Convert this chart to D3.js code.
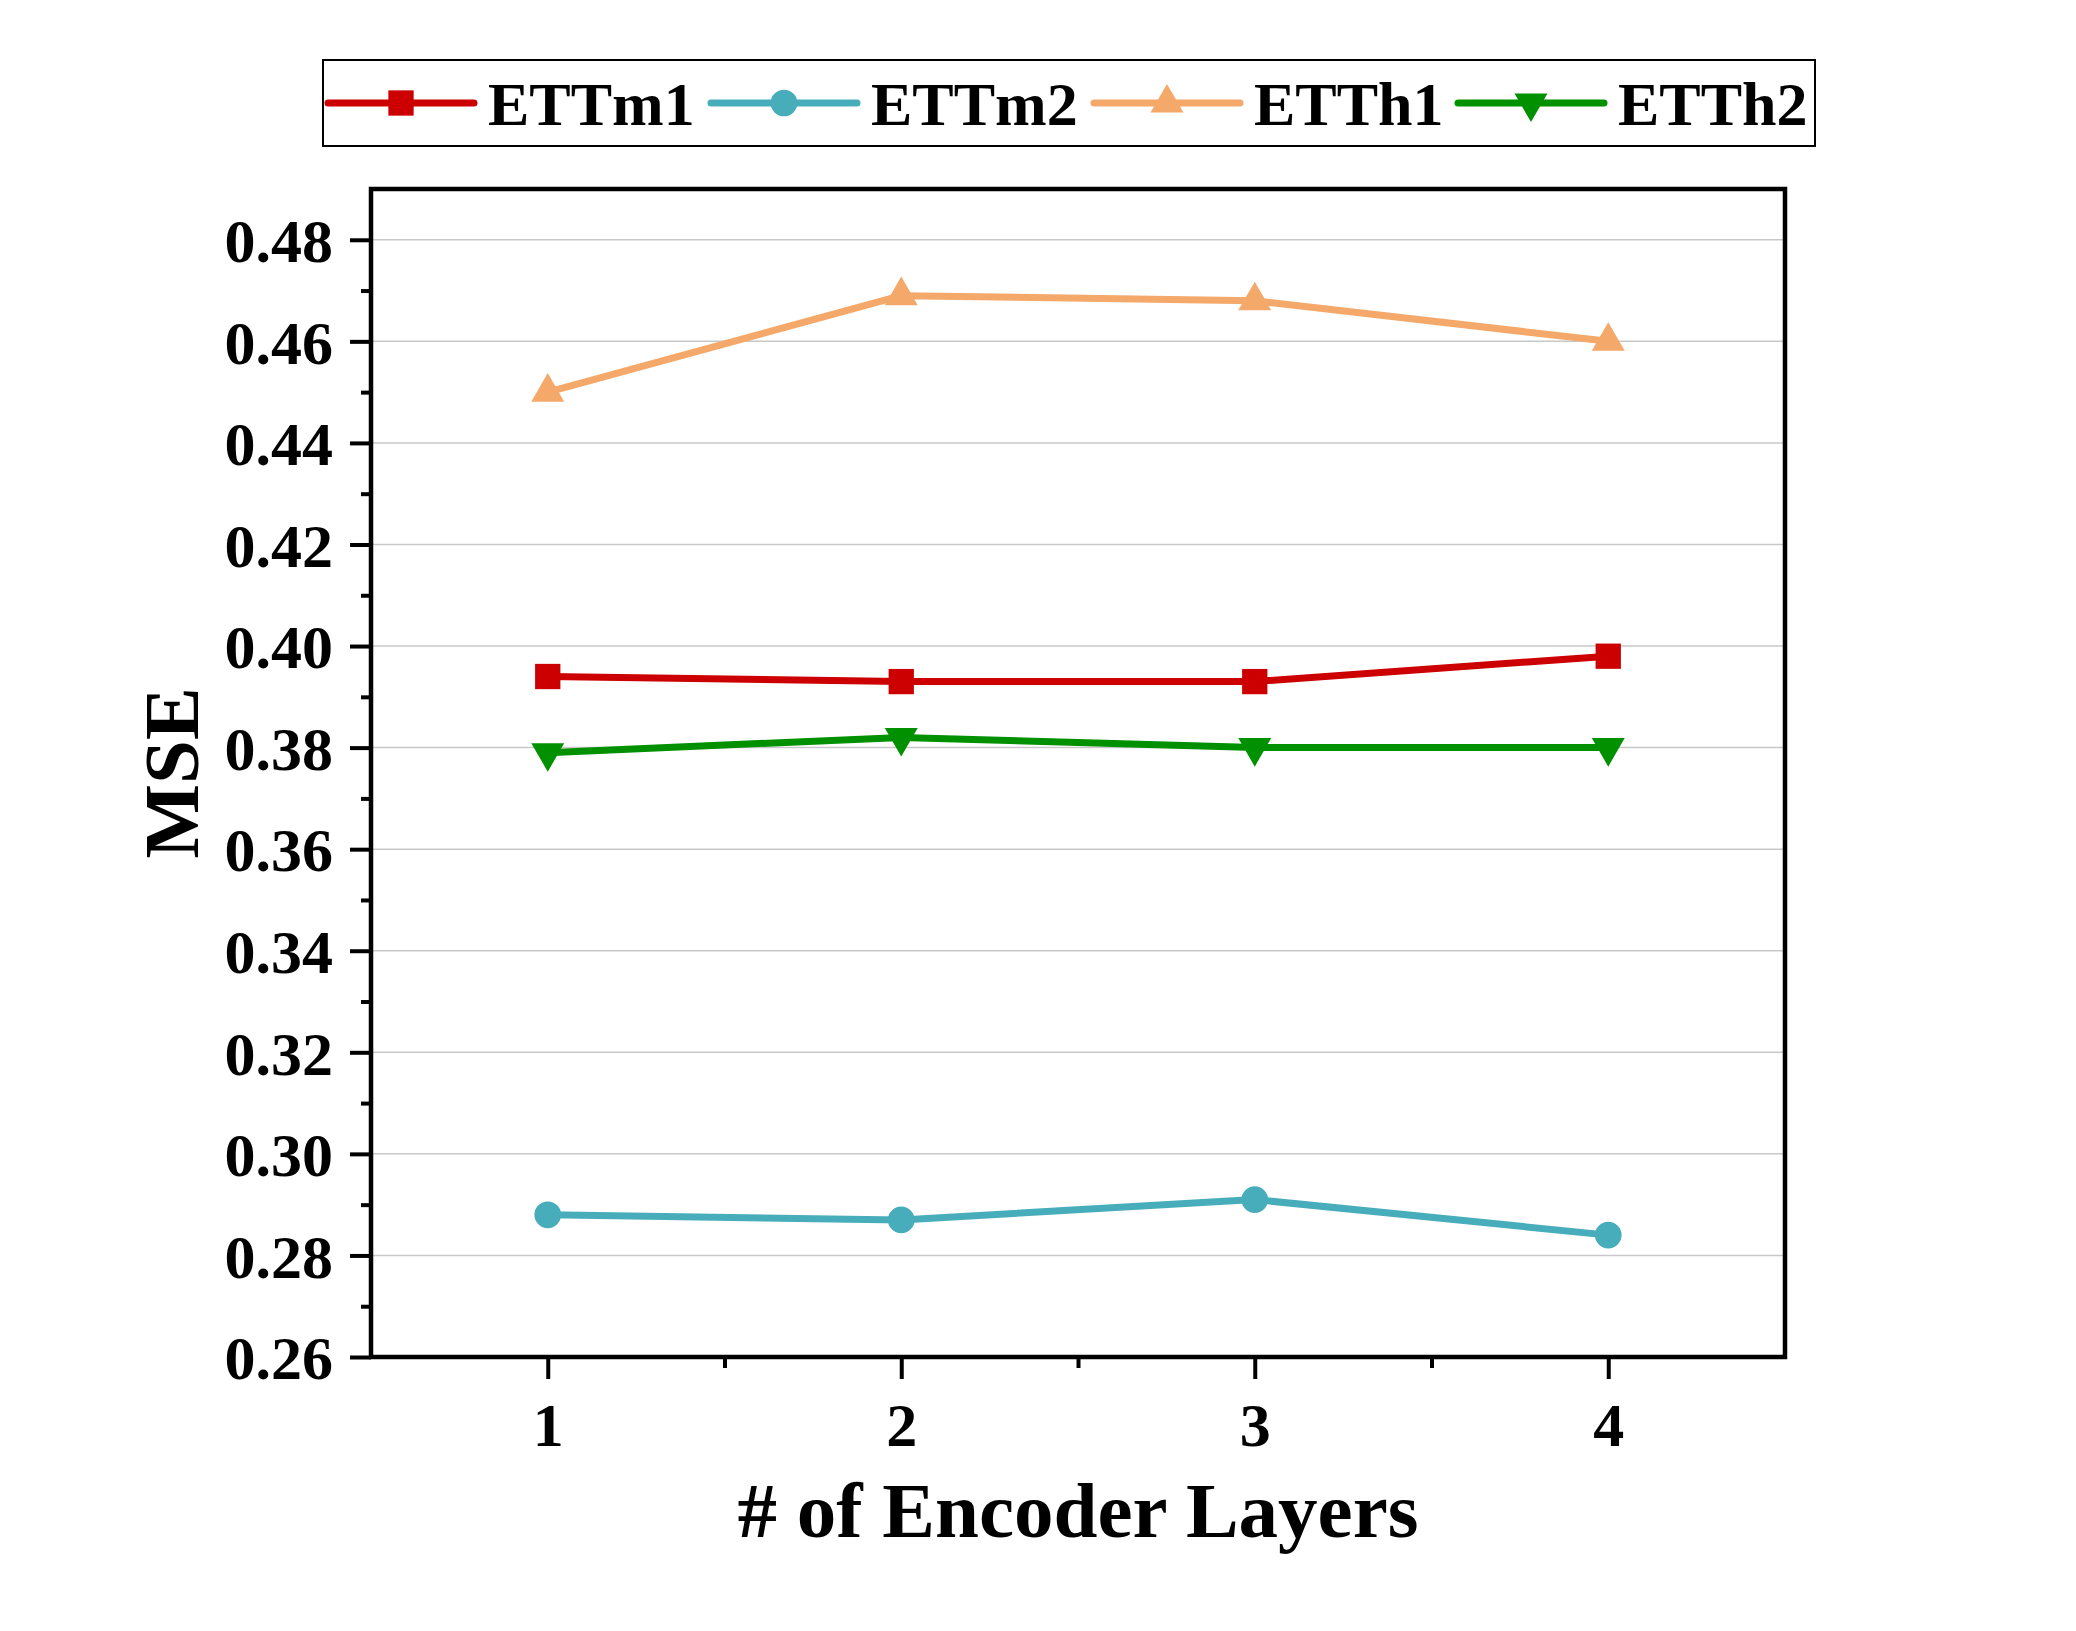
<!DOCTYPE html>
<html>
<head>
<meta charset="utf-8">
<script src="https://cdn.jsdelivr.net/npm/d3@7"></script>
<style>
  body { margin: 0; background: #fff; }
  text { font-family: "Liberation Serif", "Times New Roman", serif; font-weight: bold; }
</style>
</head>
<body>
<div id="chart"></div>
<script>
const layers = [1, 2, 3, 4]
const seriesNames = ["ETTm1", "ETTm2", "ETTh1", "ETTh2"]
const ettm1 = [0.394, 0.393, 0.393, 0.398]
const ettm2 = [0.288, 0.287, 0.291, 0.284]
const etth1 = [0.450, 0.469, 0.468, 0.460]
const etth2 = [0.379, 0.382, 0.380, 0.380]
const yTicks = [0.26, 0.28, 0.30, 0.32, 0.34, 0.36, 0.38, 0.40, 0.42, 0.44, 0.46, 0.48]

const colors = ["#cc0000", "#48adbb", "#f4a86a", "#009000"]
const shapes = ["square", "circle", "triangle", "triangleDown"]
const series = [ettm1, ettm2, etth1, etth2].map((vals, i) => ({
    name: seriesNames[i], values: vals, color: colors[i], shape: shapes[i]
}))

const width = 2076
const height = 1631
const margin = {left: 371, right: 2076 - 1785, top: 189, bottom: 1631 - 1357}

const svg = d3.select("#chart").append("svg")
    .attr("width", width)
    .attr("height", height)

const x = d3.scaleLinear().domain([0.5, 4.5]).range([margin.left, width - margin.right])
const y = d3.scaleLinear().domain([0.26, 0.49]).range([height - margin.bottom, margin.top])

// grid
svg.append("g")
    .selectAll("line")
    .data(yTicks.slice(1))
    .enter().append("line")
    .attr("x1", x(0.5)).attr("x2", x(4.5))
    .attr("y1", d => y(d)).attr("y2", d => y(d))
    .attr("stroke", "#c8c8c8")
    .attr("stroke-width", 1.5)

// y axis
const yAxis = d3.axisLeft(y).tickValues(yTicks).tickFormat(d3.format(".2f")).tickSize(21).tickPadding(17)
const gy = svg.append("g").attr("transform", `translate(${margin.left},0)`).call(yAxis)
gy.selectAll(".tick line").attr("stroke-width", 4)
gy.selectAll("text").attr("font-size", 62).attr("dy", "0.35em")
gy.select(".domain").remove()

const yMinor = d3.axisLeft(y).tickValues(yTicks.map(d => d + 0.01).filter(d => d < 0.49)).tickSize(10).tickFormat("")
const gym = svg.append("g").attr("transform", `translate(${margin.left},0)`).call(yMinor)
gym.selectAll(".tick line").attr("stroke-width", 4)
gym.select(".domain").remove()

// x axis
const xAxis = d3.axisBottom(x).tickValues(layers).tickFormat(d3.format("d")).tickSize(22).tickPadding(22)
const gx = svg.append("g").attr("transform", `translate(0,${height - margin.bottom})`).call(xAxis)
gx.selectAll(".tick line").attr("stroke-width", 4)
gx.selectAll("text").attr("font-size", 62).attr("dy", "0.72em")
gx.select(".domain").remove()

const xMinor = d3.axisBottom(x).tickValues([1.5, 2.5, 3.5]).tickSize(11).tickFormat("")
const gxm = svg.append("g").attr("transform", `translate(0,${height - margin.bottom})`).call(xMinor)
gxm.selectAll(".tick line").attr("stroke-width", 4)
gxm.select(".domain").remove()

// frame
svg.append("rect")
    .attr("x", x(0.5)).attr("y", y(0.49))
    .attr("width", x(4.5) - x(0.5)).attr("height", y(0.26) - y(0.49))
    .attr("fill", "none")
    .attr("stroke", "#000")
    .attr("stroke-width", 4.5)

function symbolFor(shape) {
    if (shape === "square") return d3.symbol().type(d3.symbolSquare).size(640)
    if (shape === "circle") return d3.symbol().type(d3.symbolCircle).size(560)
    return d3.symbol().type(d3.symbolTriangle).size(470)
}

const line = d3.line().x((d, i) => x(layers[i])).y(d => y(d))

series.forEach(s => {
    const g = svg.append("g")
    g.append("path")
        .attr("d", line(s.values))
        .attr("fill", "none")
        .attr("stroke", s.color)
        .attr("stroke-width", 7)
        .attr("stroke-linejoin", "round")
    g.selectAll("path.mark")
        .data(s.values)
        .enter().append("path")
        .attr("class", "mark")
        .attr("d", symbolFor(s.shape)())
        .attr("transform", (d, i) => `translate(${x(layers[i])},${y(d)})` + (s.shape === "triangleDown" ? " rotate(180)" : ""))
        .attr("fill", s.color)
})

// axis titles
svg.append("text")
    .attr("x", (x(0.5) + x(4.5)) / 2)
    .attr("y", 1537)
    .attr("text-anchor", "middle")
    .attr("font-size", 79)
    .text("# of Encoder Layers")

svg.append("text")
    .attr("transform", "translate(198,773) rotate(-90)")
    .attr("text-anchor", "middle")
    .attr("font-size", 79)
    .text("MSE")

// legend
const legend = svg.append("g")
legend.append("rect")
    .attr("x", 323).attr("y", 60)
    .attr("width", 1815 - 323).attr("height", 86)
    .attr("fill", "#fff")
    .attr("stroke", "#000")
    .attr("stroke-width", 2)

const legendX = [328, 711, 1094, 1458]
const ly = 103
series.forEach((s, i) => {
    const lx = legendX[i]
    const item = legend.append("g")
    item.append("line")
        .attr("x1", lx).attr("x2", lx + 146)
        .attr("y1", ly).attr("y2", ly)
        .attr("stroke", s.color)
        .attr("stroke-width", 7)
        .attr("stroke-linecap", "round")
    item.append("path")
        .attr("d", symbolFor(s.shape)())
        .attr("transform", `translate(${lx + 73},${ly})` + (s.shape === "triangleDown" ? " rotate(180)" : ""))
        .attr("fill", s.color)
    item.append("text")
        .attr("x", lx + 160)
        .attr("y", ly + 22)
        .attr("font-size", 62)
        .text(s.name)
})
</script>
</body>
</html>
